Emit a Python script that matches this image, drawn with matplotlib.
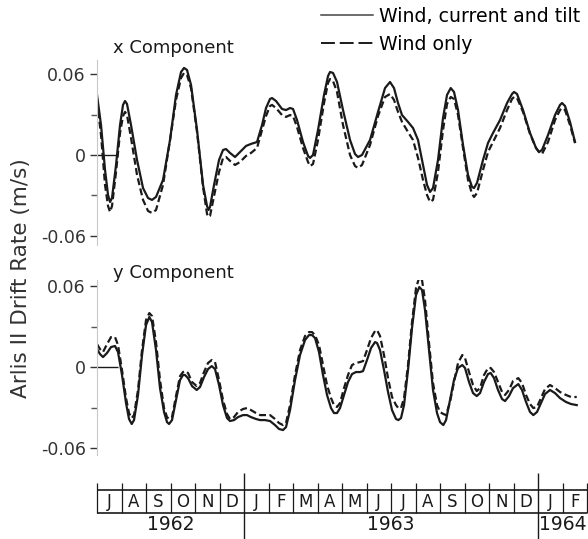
import numpy as np
import matplotlib
matplotlib.use('Agg')
import matplotlib.pyplot as plt
from matplotlib.lines import Line2D

plt.rcParams['font.family'] = ['DejaVu Sans']
plt.rcParams['lines.scale_dashes'] = False
plt.rcParams['axes.unicode_minus'] = False

# time axis: months since 1 July 1962
months = ['J', 'A', 'S', 'O', 'N', 'D', 'J', 'F', 'M', 'A', 'M', 'J',
          'J', 'A', 'S', 'O', 'N', 'D', 'J', 'F']
years = ['1962', '1963', '1964']
year_start = [0, 6, 18]
year_end = [6, 18, 20]

# x component (m/s)
tx = [0, 0.163, 0.327, 0.449, 0.531, 0.612, 0.776, 0.939, 1.061, 1.143,
      1.224, 1.388, 1.633, 1.878, 2.082, 2.245, 2.408, 2.694, 2.98, 3.224,
      3.429, 3.551, 3.673, 3.837, 4.082, 4.327, 4.49, 4.551, 4.612, 4.776,
      4.98, 5.143, 5.265, 5.429, 5.633, 5.837, 6.082, 6.286, 6.531, 6.735,
      6.898, 7.061, 7.143, 7.306, 7.551, 7.714, 7.878, 8.0, 8.163, 8.408,
      8.612, 8.694, 8.816, 9.02, 9.265, 9.429, 9.51, 9.633, 9.796, 10.041,
      10.327, 10.531, 10.653, 10.816, 11.143, 11.469, 11.755, 11.959, 12.122, 12.286,
      12.449, 12.694, 12.898, 13.102, 13.306, 13.469, 13.592, 13.714, 13.918, 14.122,
      14.286, 14.437, 14.571, 14.735, 14.939, 15.143, 15.306, 15.388, 15.51, 15.755,
      15.959, 16.163, 16.449, 16.735, 16.939, 17.02, 17.143, 17.388, 17.673, 17.918,
      18.041, 18.163, 18.408, 18.694, 18.898, 18.98, 19.102, 19.306, 19.51]
x_full = [0.0445, 0.0222, -0.0111, -0.0296, -0.0348, -0.0319, -0.0074, 0.0222, 0.0371, 0.04,
          0.0378, 0.0222, -0.0037, -0.0245, -0.0319, -0.0333, -0.0311, -0.0185, 0.0111, 0.0445,
          0.0615, 0.0645, 0.063, 0.0519, 0.0185, -0.0222, -0.0378, -0.0408, -0.0385, -0.0222,
          -0.0037, 0.0037, 0.0044, 0.0015, -0.0015, 0.0022, 0.0067, 0.0082, 0.0096, 0.0222,
          0.0348, 0.0415, 0.0422, 0.04, 0.0341, 0.0333, 0.0348, 0.0341, 0.0259, 0.0096,
          -0.0007, -0.0022, 0, 0.0185, 0.0445, 0.0585, 0.0615, 0.0608, 0.0541, 0.0333,
          0.0111, 0.0007, -0.0015, 0, 0.0111, 0.0319, 0.0496, 0.0541, 0.0496, 0.0385,
          0.0296, 0.0245, 0.02, 0.0111, -0.0074, -0.0222, -0.0274, -0.0245, -0.0037, 0.0274,
          0.0445, 0.0496, 0.0467, 0.0333, 0.0074, -0.0148, -0.0237, -0.0245, -0.0207, -0.0037,
          0.0089, 0.0163, 0.0259, 0.0385, 0.0452, 0.0467, 0.0452, 0.0333, 0.0163, 0.0052,
          0.0022, 0.0037, 0.0148, 0.0296, 0.0371, 0.0385, 0.0363, 0.0245, 0.0096]
x_wind = [0.04, 0.0148, -0.0222, -0.0378, -0.0422, -0.0378, -0.0126, 0.0163, 0.0289, 0.0319,
          0.0296, 0.0126, -0.0148, -0.0333, -0.0415, -0.043, -0.0408, -0.0222, 0.0111, 0.0408,
          0.0571, 0.0608, 0.0593, 0.0496, 0.017, -0.0237, -0.0437, -0.0459, -0.0452, -0.0304,
          -0.0126, -0.0022, -0.0015, -0.0044, -0.0074, -0.0052, -0.0007, 0.0015, 0.0052, 0.0185,
          0.0289, 0.0363, 0.0371, 0.0348, 0.0296, 0.0282, 0.0296, 0.0289, 0.0207, 0.0052,
          -0.0052, -0.0082, -0.0067, 0.0111, 0.0385, 0.0534, 0.0563, 0.0548, 0.0467, 0.0222,
          0, -0.0082, -0.0096, -0.0074, 0.0074, 0.0289, 0.043, 0.0452, 0.0408, 0.0319,
          0.0245, 0.017, 0.0111, -0.0022, -0.0185, -0.0296, -0.0348, -0.0333, -0.0126, 0.0185,
          0.0378, 0.043, 0.0415, 0.0296, 0.0052, -0.0185, -0.0289, -0.0311, -0.0282, -0.0111,
          0.0022, 0.0096, 0.02, 0.0333, 0.0415, 0.043, 0.0422, 0.0319, 0.0156, 0.0052,
          0.0022, 0.0007, 0.0096, 0.0259, 0.0333, 0.0348, 0.0333, 0.0222, 0.0089]

# y component (m/s)
ty = [0, 0.122, 0.245, 0.408, 0.571, 0.735, 0.857, 1.02, 1.184, 1.306,
      1.416, 1.51, 1.673, 1.837, 2.0, 2.135, 2.245, 2.408, 2.571, 2.735,
      2.857, 2.939, 3.061, 3.224, 3.388, 3.51, 3.592, 3.714, 3.878, 4.069,
      4.204, 4.367, 4.531, 4.682, 4.816, 4.98, 5.143, 5.306, 5.429, 5.592,
      5.755, 5.959, 6.122, 6.286, 6.49, 6.653, 6.857, 7.061, 7.265, 7.429,
      7.592, 7.714, 7.878, 8.082, 8.286, 8.49, 8.653, 8.776, 8.898, 9.061,
      9.224, 9.388, 9.551, 9.673, 9.796, 9.918, 10.082, 10.245, 10.408, 10.571,
      10.735, 10.857, 11.02, 11.184, 11.347, 11.429, 11.551, 11.714, 11.878, 12.041,
      12.204, 12.298, 12.408, 12.531, 12.694, 12.857, 13.02, 13.155, 13.265, 13.388,
      13.551, 13.714, 13.878, 14.0, 14.135, 14.245, 14.408, 14.571, 14.735, 14.91,
      15.02, 15.184, 15.347, 15.498, 15.633, 15.796, 15.959, 16.069, 16.204, 16.367,
      16.531, 16.653, 16.816, 16.98, 17.196, 17.347, 17.51, 17.673, 17.808, 17.959,
      18.122, 18.286, 18.49, 18.694, 18.898, 19.143, 19.347, 19.58]
y_full = [0.0133, 0.0096, 0.0074, 0.0104, 0.0148, 0.0156, 0.0111, -0.0059, -0.0267, -0.0385,
          -0.0422, -0.0393, -0.0207, 0.0089, 0.0311, 0.0371, 0.0333, 0.0126, -0.0156, -0.0333,
          -0.0408, -0.0422, -0.0393, -0.0245, -0.0096, -0.0059, -0.0059, -0.0082, -0.0141, -0.017,
          -0.0148, -0.0074, -0.0015, 0.0007, -0.0015, -0.0133, -0.0282, -0.0378, -0.04, -0.0393,
          -0.0371, -0.0356, -0.0356, -0.0371, -0.0385, -0.0393, -0.0393, -0.04, -0.043, -0.0459,
          -0.0467, -0.0445, -0.0319, -0.0096, 0.0089, 0.02, 0.0237, 0.0237, 0.0215, 0.0111,
          -0.0059, -0.0207, -0.0304, -0.0341, -0.0341, -0.0304, -0.0207, -0.0111, -0.0052, -0.0037,
          -0.0037, -0.003, 0.0052, 0.0141, 0.0185, 0.0178, 0.0126, -0.0022, -0.0185, -0.0319,
          -0.0385, -0.0393, -0.0378, -0.0282, -0.0022, 0.0289, 0.0534, 0.0593, 0.0571, 0.0422,
          0.0126, -0.017, -0.0341, -0.0408, -0.043, -0.0393, -0.0245, -0.0096, -0.0007, 0.0015,
          -0.0007, -0.0111, -0.0193, -0.0215, -0.0193, -0.0111, -0.0052, -0.0044, -0.0082, -0.017,
          -0.0237, -0.0252, -0.0215, -0.0156, -0.0126, -0.017, -0.0259, -0.0333, -0.0356, -0.0333,
          -0.0267, -0.02, -0.017, -0.0193, -0.023, -0.0259, -0.0274, -0.0282]
y_wind = [0.017, 0.0133, 0.0111, 0.017, 0.0222, 0.0222, 0.0163, -0.0022, -0.023, -0.0341,
          -0.0378, -0.0356, -0.017, 0.0126, 0.0348, 0.04, 0.0378, 0.0185, -0.0096, -0.0304,
          -0.0371, -0.0385, -0.0371, -0.0215, -0.0067, -0.0037, -0.003, -0.0044, -0.0111, -0.0141,
          -0.0119, -0.0037, 0.003, 0.0052, 0.0037, -0.0096, -0.0245, -0.0348, -0.0385, -0.0371,
          -0.0333, -0.0311, -0.0304, -0.0319, -0.0341, -0.0356, -0.0356, -0.0356, -0.0385, -0.0415,
          -0.043, -0.0415, -0.0282, -0.0059, 0.0126, 0.023, 0.0259, 0.0259, 0.0237, 0.0163,
          0.0015, -0.0133, -0.023, -0.0282, -0.0296, -0.0267, -0.0156, -0.0059, 0.0015, 0.003,
          0.0037, 0.0044, 0.0126, 0.0215, 0.0267, 0.0274, 0.023, 0.0089, -0.0082, -0.0222,
          -0.0282, -0.0304, -0.0304, -0.023, 0.0015, 0.0333, 0.0585, 0.0667, 0.0645, 0.0496,
          0.0178, -0.0119, -0.0282, -0.0333, -0.0348, -0.0356, -0.0259, -0.0111, 0.003, 0.0089,
          0.0067, -0.0037, -0.0133, -0.0178, -0.0156, -0.0059, -0.0007, -0.0007, -0.0037, -0.0111,
          -0.0185, -0.0207, -0.017, -0.0104, -0.0082, -0.0119, -0.0207, -0.0274, -0.0304, -0.0296,
          -0.023, -0.0163, -0.0133, -0.0156, -0.0185, -0.0207, -0.0222, -0.0222]

ink = '#1a1a1a'
grey = '#333333'
xmax = 20.04

fig = plt.figure(figsize=(5.88, 5.39), dpi=100)
fig.patch.set_facecolor('white')

ax_x = fig.add_axes([0.165, 0.5455, 0.835, 0.3432])
ax_y = fig.add_axes([0.165, 0.1558, 0.835, 0.3247])
ax_b = fig.add_axes([0.165, 0.0, 0.835, 0.1225])

panels = [(ax_x, tx, x_full, x_wind, (-0.0667, 0.0704), 'x Component', 1.065),
          (ax_y, ty, y_full, y_wind, (-0.0652, 0.0645), 'y Component', 1.04)]
for ax, t, full, wind, ylim, title, ty_pos in panels:
    ax.plot(t, full, color=ink, lw=1.6, solid_joinstyle='round')
    ax.plot(t, wind, color=ink, lw=1.6, ls=(0, (5, 2.5)))
    ax.hlines(0, 0, 0.85, color=ink, lw=1.0)
    ax.set_xlim(0, xmax)
    ax.set_ylim(*ylim)
    for s in ['top', 'right', 'bottom']:
        ax.spines[s].set_visible(False)
    ax.spines['left'].set_color('#c8c8c8')
    ax.spines['left'].set_linewidth(0.8)
    ax.set_xticks([])
    ax.set_yticks([-0.06, 0, 0.06])
    ax.set_yticklabels(['-0.06', '0', '0.06'])
    ax.set_yticks([-0.03, 0.03], minor=True)
    ax.tick_params(axis='y', which='major', direction='out', length=5, width=1,
                   pad=3, labelsize=12.5, color=grey, labelcolor=grey)
    ax.tick_params(axis='y', which='minor', direction='out', length=4, width=1,
                   color='#555555')
    ax.text(0.033, ty_pos, title, transform=ax.transAxes, fontsize=13,
            color=ink, ha='left', va='center')
    ax.patch.set_alpha(0)

# legend handles (longer dashes than in the curves, as in the original key)
h_full = Line2D([], [], color='#444444', lw=1.1, label='Wind, current and tilt')
h_wind = Line2D([], [], color=ink, lw=1.4, ls=(0, (10, 3.5)), label='Wind only')
fig.legend(handles=[h_full, h_wind], loc='upper left', bbox_to_anchor=(0.546, 0.987),
           frameon=False, fontsize=13.6, handlelength=2.75, handletextpad=0.3,
           labelspacing=0.48, borderpad=0, borderaxespad=0)

fig.text(0.036, 1 - 278 / 539, 'Arlis II Drift Rate (m/s)', rotation=90,
         ha='center', va='center', fontsize=15.5, color=grey)

# month / year band
ax_b.set_xlim(0, xmax)
ax_b.set_ylim(0, 1)
ax_b.axis('off')
n = len(months)
ax_b.hlines([0.742, 0.394], 0, n, color=ink, lw=1.2)
for i in range(n + 1):
    if i in year_start[1:]:
        ax_b.vlines(i, 0, 1, color=ink, lw=1.0)
    else:
        ax_b.vlines(i, 0.394, 0.848, color=ink, lw=0.9, clip_on=False)
for i, m in enumerate(months):
    ax_b.text(i + 0.5, 0.565, m, ha='center', va='center', fontsize=12, color=ink)
for yr, a, b in zip(years, year_start, year_end):
    ax_b.text((a + b) / 2, 0.22, yr, ha='center', va='center', fontsize=13.5, color=ink)

fig.savefig('out.png', dpi=100, facecolor='white')
